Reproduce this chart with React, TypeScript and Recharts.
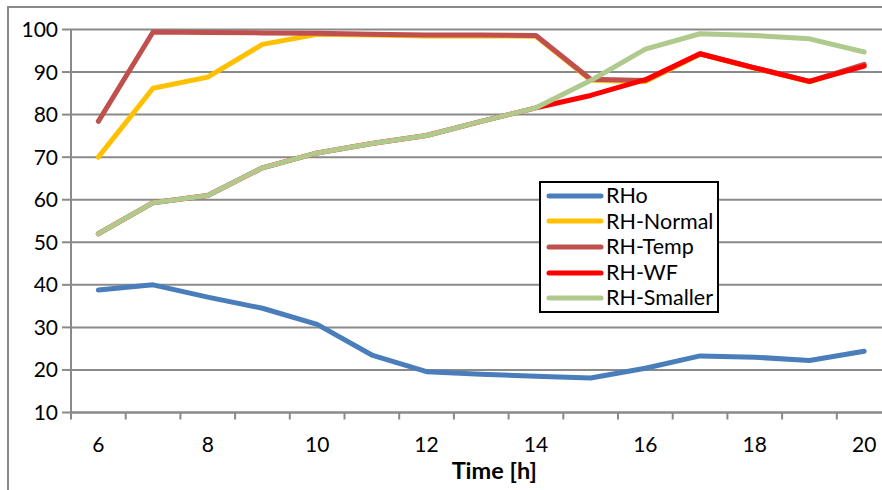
import React from 'react';
import { LineChart, Line, XAxis, YAxis, CartesianGrid, Legend } from 'recharts';

// Hour of day (x) and relative humidity readings (%) for each scenario
const hours = [6, 7, 8, 9, 10, 11, 12, 13, 14, 15, 16, 17, 18, 19, 20];
const rhO = [38.8, 40.0, 37.1, 34.5, 30.7, 23.5, 19.6, 19.0, 18.5, 18.1, 20.4, 23.3, 23.0, 22.2, 24.4];
const rhNormal = [70.0, 86.2, 88.8, 96.5, 98.9, 98.7, 98.5, 98.5, 98.4, 88.1, 87.8, 94.2, 90.9, 87.7, 91.7];
const rhTemp = [78.4, 99.4, 99.3, 99.2, 99.1, 98.9, 98.7, 98.7, 98.6, 88.3, 88.0, 94.3, 91.0, 87.8, 91.8];
const rhWF = [52.0, 59.3, 61.0, 67.5, 71.0, 73.2, 75.1, 78.4, 81.6, 84.5, 88.2, 94.3, 91.0, 87.8, 91.4];
const rhSmaller = [52.0, 59.3, 61.0, 67.5, 71.0, 73.2, 75.1, 78.4, 81.6, 88.0, 95.4, 99.0, 98.6, 97.8, 94.7];

const hourLabels = [6, 8, 10, 12, 14, 16, 18, 20];
const yTicks = [10, 20, 30, 40, 50, 60, 70, 80, 90, 100];

const series = [
  { key: 'RHo', values: rhO, color: '#4A7EBB' },
  { key: 'RH-Normal', values: rhNormal, color: '#FFC000' },
  { key: 'RH-Temp', values: rhTemp, color: '#C0504D' },
  { key: 'RH-WF', values: rhWF, color: '#FF0000' },
  { key: 'RH-Smaller', values: rhSmaller, color: '#B0C98C' },
];

const data = hours.map((t, i) => {
  const row: Record<string, number> = { t };
  series.forEach((s) => {
    row[s.key] = s.values[i];
  });
  return row;
});

// category boundaries carry the tick marks, even hours carry the labels
const boundaries = [...hours.map((h) => h - 0.5), hours[hours.length - 1] + 0.5];
const xTicks = [...boundaries, ...hourLabels].sort((a, b) => a - b);

const GRID = '#8A8A8A';
const FONT = "Lato, 'Carlito', Calibri, 'Noto Sans', sans-serif";

const HourTick = (props: any) => {
  const { x, y, payload } = props;
  const v = payload.value as number;
  if (v % 1 !== 0) {
    return <line x1={x} x2={x} y1={y} y2={y + 7} stroke={GRID} strokeWidth={2} />;
  }
  if (hourLabels.includes(v)) {
    return (
      <text x={x} y={y + 39.5} textAnchor="middle" fontSize={21} fill="#000" fontFamily={FONT}>
        {v}
      </text>
    );
  }
  return <g />;
};

// legend box listing the series in drawing order
const LegendBox = () => (
  <div
    style={{
      width: 176,
      height: 128,
      border: '2px solid #000',
      background: '#fff',
      fontFamily: FONT,
      fontSize: 21.5,
      color: '#000',
    }}
  >
    {series.map((s) => (
      <div key={s.key} style={{ height: 25.6, display: 'flex', alignItems: 'center' }}>
        <svg width={65} height={10} style={{ display: 'block', flex: 'none' }}>
          <line x1={8} x2={60} y1={5} y2={5} stroke={s.color} strokeWidth={5} strokeLinecap="round" />
        </svg>
        <span style={{ lineHeight: 1, whiteSpace: 'nowrap' }}>{s.key}</span>
      </div>
    ))}
  </div>
);

export default function App() {
  return (
    <div
      style={{
        position: 'absolute',
        left: 0,
        top: 0,
        width: 882,
        height: 490,
        overflow: 'hidden',
        background: '#fff',
      }}
    >
      <div
        style={{
          position: 'absolute',
          left: 7,
          top: 6,
          borderLeft: `2px solid ${GRID}`,
          borderTop: `2px solid ${GRID}`,
        }}
      >
        <LineChart
          width={890}
          height={482}
          data={data}
          margin={{ top: 21.5, right: 7.5, bottom: 7.5, left: 7 }}
          style={{ fontFamily: FONT }}
        >
          <CartesianGrid vertical={false} stroke={GRID} strokeWidth={2} />
          <XAxis
            dataKey="t"
            type="number"
            domain={[boundaries[0], boundaries[boundaries.length - 1]]}
            ticks={xTicks}
            interval={0}
            tickSize={0}
            tickMargin={0}
            tickLine={false}
            tick={<HourTick />}
            axisLine={{ stroke: GRID, strokeWidth: 2 }}
            height={70}
            label={{
              value: 'Time [h]',
              position: 'insideBottom',
              offset: 4,
              dx: 13,
              style: { fontFamily: FONT, fontWeight: 700, fontSize: 23.5, fill: '#000' },
            }}
          />
          <YAxis
            domain={[10, 100]}
            ticks={yTicks}
            interval={0}
            width={55}
            tickSize={9}
            tickMargin={4}
            tickLine={{ stroke: GRID, strokeWidth: 2 }}
            axisLine={{ stroke: GRID, strokeWidth: 2 }}
            tick={{ fill: '#000', fontSize: 21, fontFamily: FONT }}
          />
          {series.map((s) => (
            <Line
              key={s.key}
              type="linear"
              dataKey={s.key}
              stroke={s.color}
              strokeWidth={5}
              strokeLinecap="round"
              strokeLinejoin="round"
              dot={false}
              activeDot={false}
              isAnimationActive={false}
            />
          ))}
          <Legend
            layout="vertical"
            align="center"
            verticalAlign="middle"
            content={<LegendBox />}
            wrapperStyle={{ left: 530, top: 173, width: 180 }}
          />
        </LineChart>
      </div>
    </div>
  );
}
